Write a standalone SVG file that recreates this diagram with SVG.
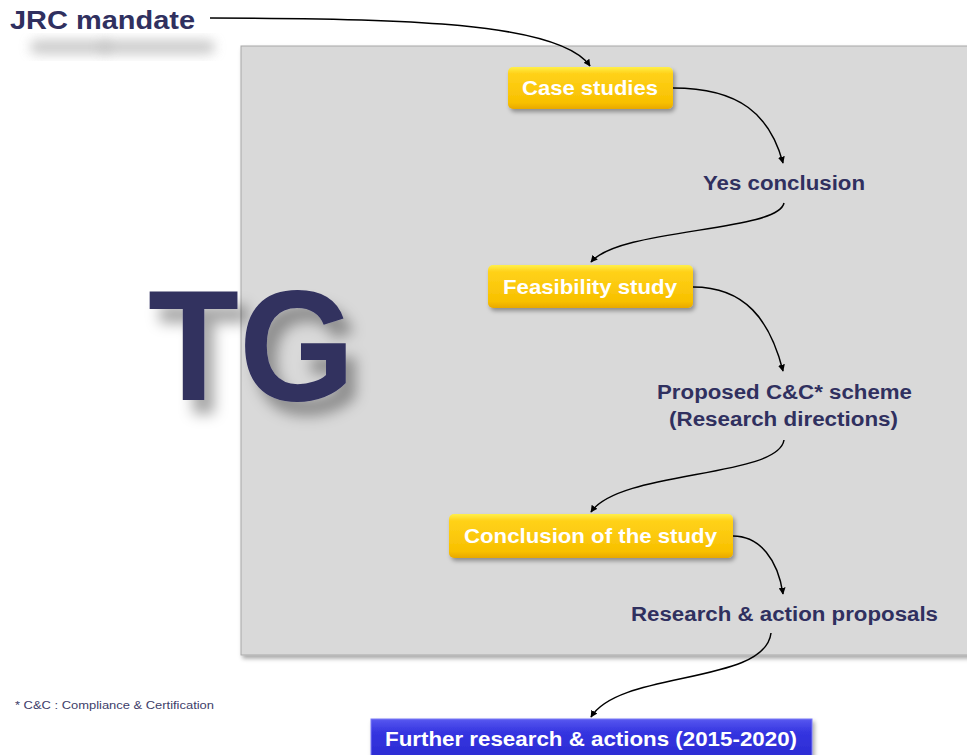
<svg xmlns="http://www.w3.org/2000/svg" width="967" height="755" viewBox="0 0 967 755">
<defs>
<style>
.lbl{font-family:"Liberation Sans",Arial,sans-serif;font-weight:bold;fill:#30305f;}
.btn{font-family:"Liberation Sans",Arial,sans-serif;font-weight:bold;fill:#ffffff;font-size:21px;}
.con{fill:none;stroke:#000;stroke-width:1.5;marker-end:url(#arr);}
</style>
<marker id="arr" viewBox="0 0 10 10" refX="9" refY="5" markerWidth="7" markerHeight="7" orient="auto-start-reverse" markerUnits="userSpaceOnUse">
<path d="M0,0 L10,5 L0,10 z" fill="#000"/>
</marker>
<linearGradient id="gold" x1="0" y1="0" x2="0" y2="1">
<stop offset="0" stop-color="#fff04a"/>
<stop offset="0.15" stop-color="#ffd21a"/>
<stop offset="0.85" stop-color="#f8c000"/>
<stop offset="1" stop-color="#e8a800"/>
</linearGradient>
<linearGradient id="blue" x1="0" y1="0" x2="0" y2="1">
<stop offset="0" stop-color="#5858f0"/>
<stop offset="0.3" stop-color="#3434e0"/>
<stop offset="1" stop-color="#2a2ad0"/>
</linearGradient>
<filter id="blur" x="-20%" y="-50%" width="140%" height="200%"><feGaussianBlur stdDeviation="6"/></filter>
<filter id="sh" x="-10%" y="-20%" width="130%" height="160%"><feDropShadow dx="2" dy="3" stdDeviation="2" flood-color="#000" flood-opacity="0.35"/></filter>
<filter id="tgsh" x="-20%" y="-20%" width="150%" height="150%"><feDropShadow dx="10" dy="14" stdDeviation="7" flood-color="#000" flood-opacity="0.35"/></filter>
</defs>
<rect width="967" height="755" fill="#fff"/>
<g id="panel">
<rect x="241" y="46" width="740" height="609" fill="#d9d9d9" stroke="#a8a8a8" stroke-width="1" filter="url(#sh)"/>
</g>
<g id="tg">
<text x="148" y="400" class="lbl" font-size="158" textLength="207" lengthAdjust="spacingAndGlyphs" filter="url(#tgsh)">TG</text>
</g>
<g id="jrc">
<rect x="30" y="40" width="80" height="14" rx="7" fill="#b5b5b5" opacity="0.7" filter="url(#blur)"/>
<rect x="100" y="40" width="115" height="14" rx="7" fill="#b5b5b5" opacity="0.7" filter="url(#blur)"/>
<text x="10" y="29" class="lbl" font-size="25" textLength="185" lengthAdjust="spacingAndGlyphs">JRC mandate</text>
</g>
<g id="case-studies">
<rect x="508" y="67" width="165" height="42" rx="5" fill="url(#gold)" filter="url(#sh)"/>
<text x="522" y="95" class="btn" textLength="136" lengthAdjust="spacingAndGlyphs">Case studies</text>
</g>
<g id="yes-conclusion">
<text x="703" y="190" class="lbl" font-size="20" textLength="162" lengthAdjust="spacingAndGlyphs">Yes conclusion</text>
</g>
<g id="feasibility-study">
<rect x="488" y="265" width="205" height="43" rx="5" fill="url(#gold)" filter="url(#sh)"/>
<text x="503" y="294" class="btn" textLength="174" lengthAdjust="spacingAndGlyphs">Feasibility study</text>
</g>
<g id="proposed-scheme">
<text x="657" y="399" class="lbl" font-size="20" textLength="255" lengthAdjust="spacingAndGlyphs">Proposed C&amp;C* scheme</text>
<text x="669" y="426" class="lbl" font-size="20" textLength="229" lengthAdjust="spacingAndGlyphs">(Research directions)</text>
</g>
<g id="conclusion-study">
<rect x="449" y="514" width="284" height="44" rx="5" fill="url(#gold)" filter="url(#sh)"/>
<text x="464" y="543" class="btn" textLength="253" lengthAdjust="spacingAndGlyphs">Conclusion of the study</text>
</g>
<g id="research-action">
<text x="631" y="621" class="lbl" font-size="20" textLength="307" lengthAdjust="spacingAndGlyphs">Research &amp; action proposals</text>
</g>
<g id="further-research">
<rect x="371" y="719" width="441" height="45" fill="url(#blue)" stroke="#7a7af5" stroke-width="1" filter="url(#sh)"/>
<text x="385" y="746" class="btn" textLength="412" lengthAdjust="spacingAndGlyphs">Further research &amp; actions (2015-2020)</text>
</g>
<g id="footnote">
<text x="15" y="709" font-family="'Liberation Sans',Arial,sans-serif" font-size="11.5" fill="#40406a" textLength="199" lengthAdjust="spacingAndGlyphs">* C&amp;C : Compliance &amp; Certification</text>
</g>
<g id="connectors">
<path class="con" d="M210,18 C400,18 560,22 590,66"/>
<path class="con" d="M673,88 C740,88 770,115 783,163"/>
<path class="con" d="M784,203 C778,232 620,228 591,262"/>
<path class="con" d="M693,287 C745,287 770,320 783,371"/>
<path class="con" d="M784,440 C778,478 620,470 591,512"/>
<path class="con" d="M733,536 C760,536 778,560 783,594"/>
<path class="con" d="M771,633 C765,685 620,670 591,717"/>
</g>
</svg>
